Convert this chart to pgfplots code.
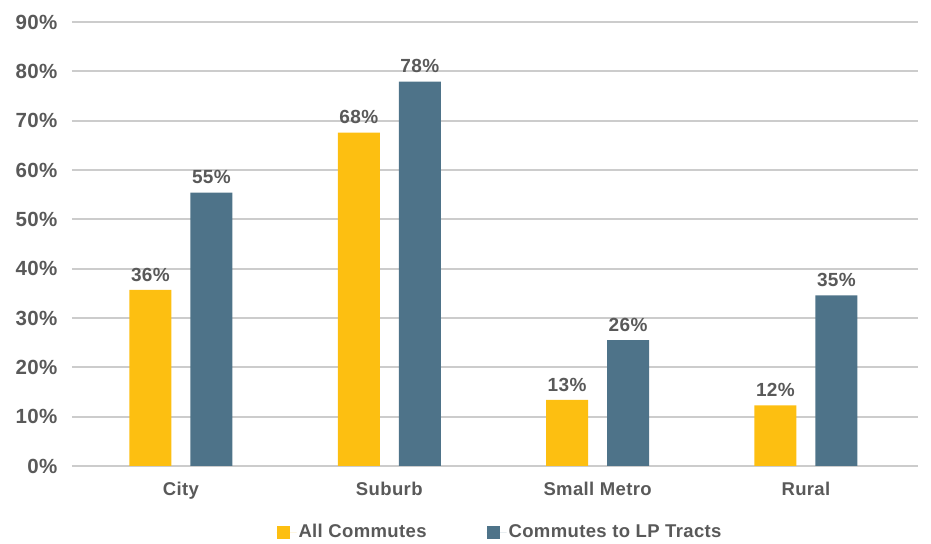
\documentclass[border=0pt]{standalone}
\usepackage{pgfplots}
\pgfplotsset{compat=1.18}
\usepackage{fontspec}
\setmainfont{Liberation Sans}[LetterSpace=2]
\definecolor{ayellow}{HTML}{FDBF11}
\definecolor{ablue}{HTML}{4E7389}
\definecolor{txt}{HTML}{595959}
\definecolor{gridc}{HTML}{CCCCCC}
\begin{document}
\begin{tikzpicture}
\begin{axis}[
  scale only axis,
  width=846pt, height=444pt,
  ybar=19pt, bar width=42pt,
  xmin=-0.523, xmax=3.538,
  ymin=0, ymax=90,
  xtick={0,1,2,3},
  xticklabels={City,Suburb,Small Metro,Rural},
  ytick={0,10,...,90},
  yticklabel={\pgfmathprintnumber{\tick}\%},
  /pgf/number format/assume math mode=true,
  axis line style={draw=none},
  major tick length=0pt,
  xmajorgrids=false,
  ymajorgrids=true,
  grid style={draw=gridc, line width=1.8pt},
  tick label style={font=\bfseries\fontsize{20.5}{23}\selectfont, text=txt},
  yticklabel style={xshift=-11pt},
  xticklabel style={font=\bfseries\fontsize{18.5}{21}\selectfont, yshift=-13pt},
  nodes near coords={\pgfmathprintnumber[fixed,precision=0]{\pgfplotspointmeta}\%},
  every node near coord/.append style={font=\bfseries\fontsize{19}{21}\selectfont, text=txt, yshift=5pt},
  legend columns=2,
  legend style={draw=none, at={(0.5,0)}, anchor=center, yshift=-66pt, xshift=5pt,
    font=\bfseries\fontsize{18.5}{21}\selectfont, text=txt,
    /tikz/every even column/.append style={column sep=58pt}},
  legend image code/.code={\fill[#1] (0pt,-6.5pt) rectangle (13pt,6.5pt); \path (0pt,0pt) -- (20pt,0pt);},
]
\addplot[fill=ayellow, draw=none] coordinates {(0,35.7) (1,67.6) (2,13.4) (3,12.3)};
\addplot[fill=ablue, draw=none] coordinates {(0,55.4) (1,77.9) (2,25.5) (3,34.6)};
\legend{All Commutes, Commutes to LP Tracts}
\end{axis}
\path ([xshift=-72pt,yshift=-77pt]current axis.south west) rectangle ([xshift=13pt,yshift=22pt]current axis.north east);
\end{tikzpicture}
\end{document}
